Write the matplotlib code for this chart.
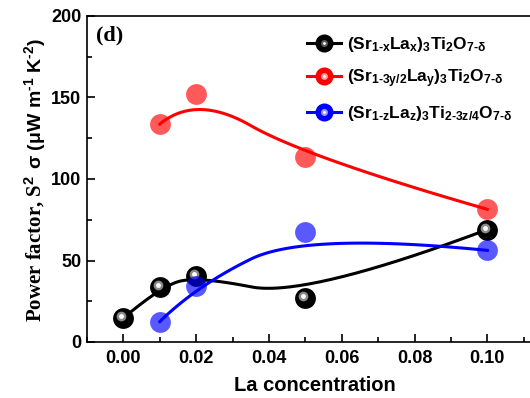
import numpy as np
import matplotlib
matplotlib.use("Agg")
import matplotlib.pyplot as plt
from matplotlib.lines import Line2D
from matplotlib.legend_handler import HandlerTuple
import matplotlib.transforms as mtransforms

plt.rcParams['mathtext.fontset'] = 'custom'
plt.rcParams['mathtext.rm'] = 'Liberation Sans:bold'
plt.rcParams['mathtext.it'] = 'Liberation Sans:bold'
plt.rcParams['mathtext.bf'] = 'Liberation Sans:bold'

# ---- data ----
x_black = [0.00, 0.01, 0.02, 0.05, 0.10]
y_black = [14.7, 33.5, 40.5, 27.2, 69.0]
x_red = [0.01, 0.02, 0.05, 0.10]
y_red = [133.7, 152.0, 113.5, 81.4]
x_blue = [0.01, 0.02, 0.05, 0.10]
y_blue = [12.5, 34.4, 67.3, 56.2]
labels = [r'(Sr$_{1\text{-}x}$La$_{x}$)$_{3}$Ti$_{2}$O$_{7\text{-}\delta}$',
          r'(Sr$_{1\text{-}3y/2}$La$_{y}$)$_{3}$Ti$_{2}$O$_{7\text{-}\delta}$',
          r'(Sr$_{1\text{-}z}$La$_{z}$)$_{3}$Ti$_{2\text{-}3z/4}$O$_{7\text{-}\delta}$']
xticks = [0.00, 0.02, 0.04, 0.06, 0.08, 0.10]
yticks = [0, 50, 100, 150, 200]


def bspline2(xs, ys, n=60):
    """Clamped uniform quadratic B-spline using data as control points."""
    P = np.column_stack([xs, ys]).astype(float)
    m = len(P)
    out = []
    t = np.linspace(0, 1, n)[:, None]
    for i in range(m - 2):
        a = P[0] if i == 0 else (P[i] + P[i + 1]) / 2
        b = P[i + 1]
        c = P[-1] if i == m - 3 else (P[i + 1] + P[i + 2]) / 2
        seg = (1 - t) ** 2 * a + 2 * t * (1 - t) * b + t ** 2 * c
        out.append(seg)
    out = np.vstack(out)
    return out[:, 0], out[:, 1]


fig = plt.figure(figsize=(5.30, 3.98), dpi=100)
ax = fig.add_axes([87 / 530, 1 - 342 / 398, (542 - 87) / 530, (342 - 16) / 398])

ms = 15
hl = mtransforms.offset_copy(ax.transData, fig=fig, x=-2.0, y=2.0, units='dots')

# black
bx, by = bspline2(x_black, y_black)
ax.plot(bx, by, color='black', lw=2.2, zorder=2)
ax.plot(x_black, y_black, 'o', color='black', ms=ms, mec='none', zorder=3)
ax.plot(x_black, y_black, 'o', color='#8a8a8a', ms=7, mec='none', zorder=3.1, transform=hl)
ax.plot(x_black, y_black, 'o', color='white', ms=3.5, mec='none', zorder=3.2, transform=hl)

# red
rx, ry = bspline2(x_red, y_red)
ax.plot(x_red, y_red, 'o', color='#ff0000', alpha=0.65, ms=ms, mec='none', zorder=4)
ax.plot(rx, ry, color='#ff0000', lw=2.2, zorder=5)

# blue
ux, uy = bspline2(x_blue, y_blue)
ax.plot(x_blue, y_blue, 'o', color='#0000ff', alpha=0.65, ms=ms, mec='none', zorder=4)
ax.plot(ux, uy, color='#0000ff', lw=2.2, zorder=5)

ax.set_xlim(-0.0096, 0.115)
ax.set_ylim(0, 200)
ax.set_xticks(xticks)
ax.set_yticks(yticks)
ax.set_xticks(np.arange(-0.01, 0.115, 0.01), minor=True)
ax.set_yticks(np.arange(0, 201, 25), minor=True)
ax.set_xticklabels(['%.2f' % v for v in xticks])
ax.set_yticklabels([str(v) for v in yticks])
ax.tick_params(which='both', direction='in', top=False, right=False, width=1.2)
ax.tick_params(which='major', length=6)
ax.tick_params(axis='x', which='major', pad=6)
ax.tick_params(axis='y', which='major', pad=4)
ax.tick_params(which='minor', length=3.5)
for lab in ax.get_xticklabels() + ax.get_yticklabels():
    lab.set_fontfamily('Liberation Sans')
    lab.set_fontweight('bold')
    lab.set_fontsize(13)
for s in ax.spines.values():
    s.set_linewidth(1.2)

ax.set_xlabel('La concentration', fontfamily='Liberation Sans', fontweight='bold',
              fontsize=14.5, labelpad=6)

# y label in two parts
fig.text(35 / 530, 1 - 248 / 398, r'Power factor, S$^{2}$', rotation=90, ha='center', va='center',
         fontfamily='Liberation Serif', fontweight='bold', fontsize=15)
fig.text(35 / 530, 1 - 104 / 398, r'$\sigma$ (μW m$^{\text{-}1}$ K$^{\text{-}2}$)', rotation=90,
         ha='center', va='center', fontfamily='Liberation Sans', fontweight='bold', fontsize=14)

ax.text(0.02, 0.97, '(d)', transform=ax.transAxes, fontfamily='Liberation Serif',
        fontweight='bold', fontsize=16, va='top', ha='left')

# legend with shaded spheres
def handle(c):
    ln = Line2D([], [], color=c, lw=2.2, marker='o', ms=13, mec='none')
    h1 = Line2D([], [], ls='none', marker='o', ms=5, color='#999999' if c == 'black' else 'white',
                alpha=0.6, mec='none')
    h2 = Line2D([], [], ls='none', marker='o', ms=2, color='white', mec='none')
    return (ln, h1, h2)

hs = [handle('black'), handle('#ff0000'), handle('#0000ff')]
leg = fig.legend(hs, labels, handler_map={tuple: HandlerTuple(ndivide=1, pad=0)},
                 loc='upper left', bbox_to_anchor=(291 / 530, 1 - 19 / 398),
                 frameon=False, handlelength=2.0, handletextpad=0.3, labelspacing=0.8,
                 prop={'family': 'Liberation Sans', 'weight': 'bold', 'size': 12.5})

fig.savefig('out.png', dpi=100)
